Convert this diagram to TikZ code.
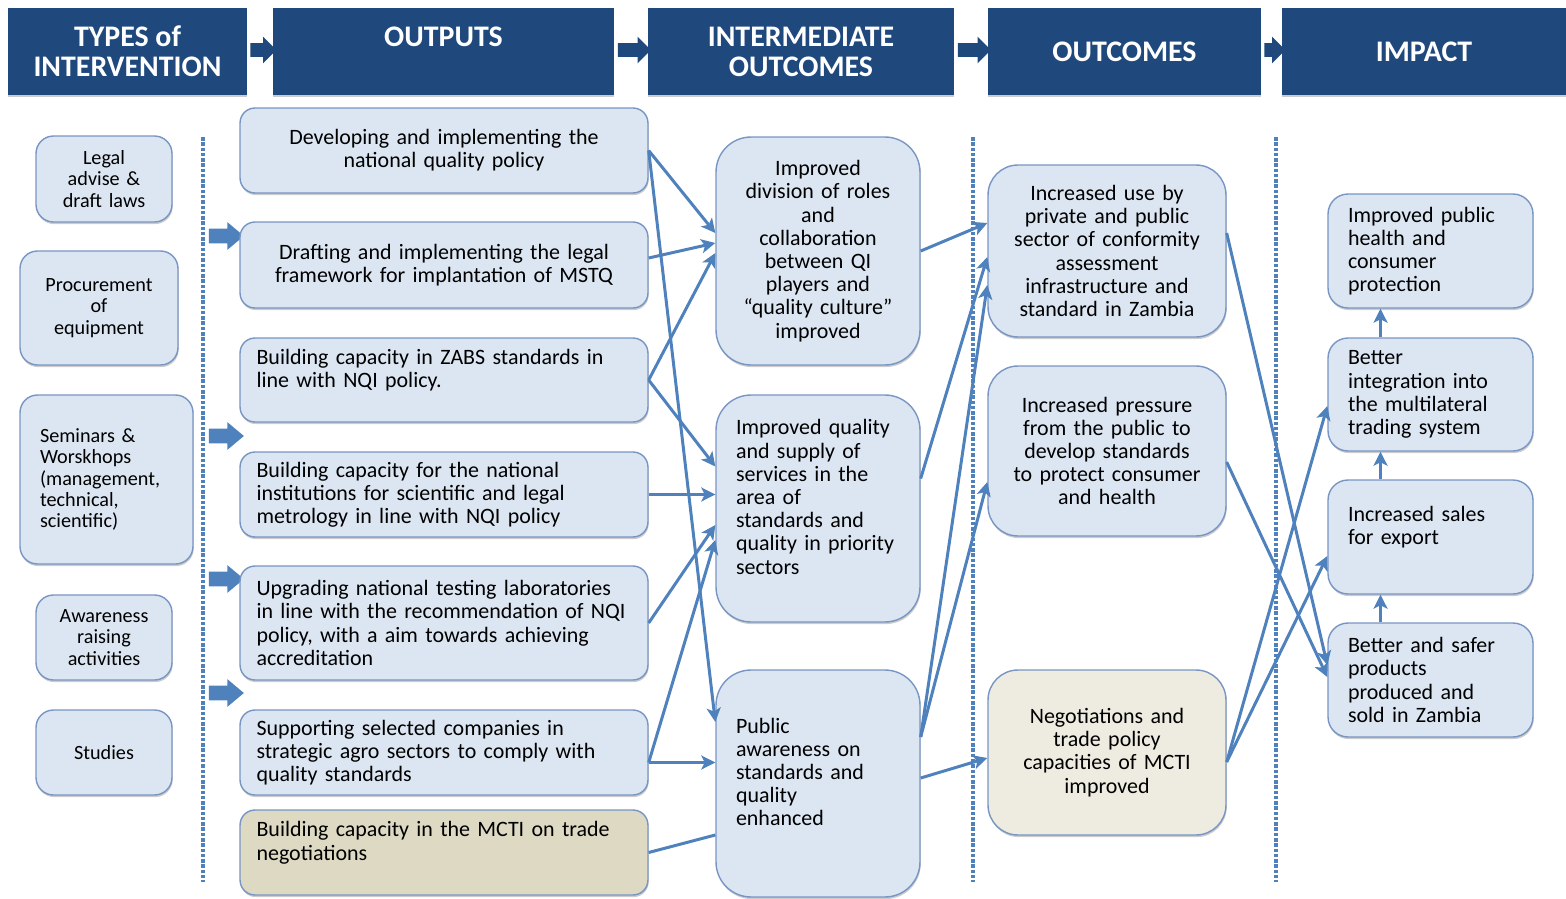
\documentclass[tikz,border=0pt]{standalone}
\usepackage{fontspec}
\setmainfont{Carlito}
\usepackage{tikz}
\usetikzlibrary{arrows.meta}
\usetikzlibrary{shapes.arrows}
\usetikzlibrary{shadows}
\definecolor{headblue}{RGB}{31,73,125}
\definecolor{linkblue}{RGB}{79,129,189}
\definecolor{boxfill}{RGB}{220,230,242}
\definecolor{boxline}{RGB}{120,150,195}
\definecolor{tandark}{RGB}{221,217,195}
\definecolor{tanlight}{RGB}{238,236,225}
\tikzset{head/.style={fill=headblue,text=white,font=\fontsize{17}{17}\selectfont\bfseries,align=center,minimum height=1.74cm,drop shadow={shadow xshift=0pt,shadow yshift=-1.2pt,fill=black!40,opacity=0.5}},
box/.style={draw=boxline,line width=0.8pt,fill=boxfill,rounded corners=0.3cm,font=\fontsize{12.5}{13.2}\selectfont,inner xsep=0.4cm,inner ysep=2pt,drop shadow={shadow xshift=0.4pt,shadow yshift=-1.2pt,fill=black!40,opacity=0.5}},
obox/.style={box,inner xsep=0.33cm,minimum width=8.16cm,text width=7.5cm},
tbox/.style={box,font=\fontsize{11.5}{12.2}\selectfont,rounded corners=0.35cm},
link/.style={draw=linkblue,line width=1.7pt,-{Stealth[length=8pt,width=8pt,inset=2pt]}},
flat/.style={draw=linkblue,line width=1.7pt},
headarrow/.style={single arrow,fill=headblue,inner sep=0.13cm,single arrow head extend=0.13cm,single arrow head indent=0pt},
sidearrow/.style={single arrow,fill=linkblue,inner sep=0.14cm,minimum height=0.7cm,single arrow head extend=0.13cm,single arrow tip angle=80},
sep/.style={draw=linkblue,line width=2pt,dash pattern=on 2pt off 1pt}}

\begin{document}
\begin{tikzpicture}[x=0.02cm,y=-0.02cm]
\useasboundingbox (0,0) rectangle (1566,899);

% header row
\node (h1) at (127.5,51.5) [head,minimum width=4.78cm] {TYPES of\\INTERVENTION};
\node (h2) at (443.5,51.5) [head,minimum width=6.82cm] {OUTPUTS\\~};
\node (h3) at (801,51.5) [head,minimum width=6.12cm] {INTERMEDIATE\\OUTCOMES};
\node (h4) at (1124.5,51.5) [head,minimum width=5.46cm] {OUTCOMES};
\node (h5) at (1424,51.5) [head,minimum width=5.68cm] {IMPACT};
\node (a1) at (260,50) [headarrow,minimum height=0.52cm] {};
\node (a2) at (631,50) [headarrow,minimum height=0.66cm] {};
\node (a3) at (971,50) [headarrow,minimum height=0.66cm] {};
\node (a4) at (1271.5,50) [headarrow,minimum height=0.42cm] {};

% separators
\draw [sep] (203,137) -- (203,882);
\draw [sep] (973,137) -- (973,882);
\draw [sep] (1276,137) -- (1276,882);

% types of intervention
\node (t1) at (104,179) [tbox,minimum width=2.72cm,minimum height=1.72cm,text width=1.92cm,align=center] {Legal\\advise \&\\draft laws};
\node (t2) at (99,308) [tbox,minimum width=3.16cm,minimum height=2.28cm,text width=2.36cm,align=center] {Procurement\\of\\equipment};
\node (t3) at (106.5,479.5) [tbox,minimum width=3.46cm,minimum height=3.38cm,text width=2.66cm,align=left] {Seminars \&\\Worskhops\\(management,\\technical,\\scientific)};
\node (t4) at (104,637.5) [tbox,minimum width=2.72cm,minimum height=1.7cm,text width=1.92cm,align=center] {Awareness\\raising\\activities};
\node (t5) at (104,752.5) [tbox,minimum width=2.72cm,minimum height=1.7cm,text width=1.92cm,align=center] {Studies};

\node (s1) at (222,236) [sidearrow] {};
\node (s2) at (222,436) [sidearrow] {};
\node (s3) at (222,579) [sidearrow] {};
\node (s4) at (222,693) [sidearrow] {};

% outputs
\node (o1) at (444,150.5) [obox,minimum height=1.7cm,align=center] {Developing and implementing the\\national quality policy};
\node (o2) at (444,265) [obox,minimum height=1.72cm,align=center] {Drafting and implementing the legal\\framework for implantation of MSTQ};
\node (o3) at (444,380) [obox,minimum height=1.68cm,align=left] {Building capacity in ZABS standards in\\line with NQI policy.\\~};
\node (o4) at (444,494.5) [obox,minimum height=1.7cm,align=left] {Building capacity for the national\\institutions for scientific and legal\\metrology in line with NQI policy};
\node (o5) at (444,623) [obox,minimum height=2.28cm,align=left] {Upgrading national testing laboratories\\in line with the recommendation of NQI\\policy, with a aim towards achieving\\accreditation};
\node (o6) at (444,752.5) [obox,minimum height=1.7cm,align=left] {Supporting selected companies in\\strategic agro sectors to comply with\\quality standards};
\node (o7) at (444,852.5) [obox,fill=tandark,minimum height=1.7cm,align=left] {Building capacity in the MCTI on trade\\negotiations\\~};

% intermediate outcomes
\node (i1) at (818,251) [box,rounded corners=0.7cm,minimum width=4.08cm,minimum height=4.56cm,text width=3.28cm,align=center] {Improved\\division of roles\\and\\collaboration\\between QI\\players and\\“quality culture”\\improved};
\node (i2) at (818,508.5) [box,rounded corners=0.7cm,minimum width=4.08cm,minimum height=4.54cm,text width=3.28cm,align=left] {Improved quality\\and supply of\\services in the\\area of\\standards and\\quality in priority\\sectors\\~};
\node (i3) at (818,783.5) [box,rounded corners=0.7cm,minimum width=4.08cm,minimum height=4.54cm,text width=3.28cm,align=left] {Public\\awareness on\\standards and\\quality\\enhanced\\~};

% outcomes
\node (c1) at (1107,251) [box,rounded corners=0.6cm,minimum width=4.76cm,minimum height=3.44cm,text width=3.96cm,align=center] {Increased use by\\private and public\\sector of conformity\\assessment\\infrastructure and\\standard in Zambia};
\node (c2) at (1107,451) [box,rounded corners=0.6cm,minimum width=4.76cm,minimum height=3.4cm,text width=3.96cm,align=center] {Increased pressure\\from the public to\\develop standards\\to protect consumer\\and health};
\node (c3) at (1107,752.5) [box,fill=tanlight,rounded corners=0.6cm,minimum width=4.76cm,minimum height=3.3cm,text width=3.96cm,align=center] {Negotiations and\\trade policy\\capacities of MCTI\\improved};

% impact
\node (p1) at (1430.5,251) [box,rounded corners=0.4cm,minimum width=4.1cm,minimum height=2.28cm,text width=3.3cm,align=left] {Improved public\\health and\\consumer\\protection};
\node (p2) at (1430.5,394.5) [box,rounded corners=0.4cm,minimum width=4.1cm,minimum height=2.26cm,text width=3.3cm,align=left] {Better\\integration into\\the multilateral\\trading system};
\node (p3) at (1430.5,537) [box,rounded corners=0.4cm,minimum width=4.1cm,minimum height=2.28cm,text width=3.3cm,align=left] {Increased sales\\for export\\~};
\node (p4) at (1430.5,680) [box,rounded corners=0.4cm,minimum width=4.1cm,minimum height=2.28cm,text width=3.3cm,align=left] {Better and safer\\products\\produced and\\sold in Zambia};

% outputs to intermediate outcomes
\draw [link] (o1.east) -- ([yshift=0.36cm]i1.west);
\draw [link] (o1.east) -- ([yshift=1.23cm]i3.west);
\draw [link] ([yshift=0.14cm]o2.east) -- ([yshift=0.16cm]i1.west);
\draw [link] (o3.east) -- ([yshift=-0.04cm]i1.west);
\draw [link] (o3.east) -- ([yshift=0.84cm]i2.west);
\draw [link] (o4.east) -- (o4.east -| i2.west);
\draw [link] (o5.east) -- ([yshift=-0.33cm]i2.west);
\draw [link] ([yshift=-0.2cm]o6.east) -- ([yshift=-0.63cm]i2.west);
\draw [link] ([yshift=-0.2cm]o6.east) -- ([yshift=-0.2cm]o6.east -| i3.west);
\draw [flat] (o7.east) -- ([yshift=-1.03cm]i3.west);

% intermediate outcomes to outcomes
\draw [link] (i1.east) -- ([yshift=0.56cm]c1.west);
\draw [link] ([yshift=0.6cm]i2.east) -- ([yshift=-0.12cm]c1.west);
\draw [link] ([yshift=0.93cm]i3.east) -- ([yshift=-0.68cm]c1.west);
\draw [link] ([yshift=0.93cm]i3.east) -- ([yshift=-0.62cm]c2.west);
\draw [link] ([yshift=0.11cm]i3.east) -- ([yshift=-0.11cm]c3.west);

% outcomes to impact
\draw [link] ([yshift=0.36cm]c1.east) -- ([yshift=0.3cm]p4.west);
\draw [link] ([yshift=-0.22cm]c2.east) -- ([yshift=0.06cm]p4.west);
\draw [link] ([yshift=-0.19cm]c3.east) -- ([yshift=-0.23cm]p2.west);
\draw [link] ([yshift=-0.19cm]c3.east) -- ([yshift=-0.38cm]p3.west);
\draw [link] ([xshift=-1cm]p4.north) -- ([xshift=-1cm]p3.south);
\draw [link] ([xshift=-1cm]p3.north) -- ([xshift=-1cm]p2.south);
\draw [link] ([xshift=-1cm]p2.north) -- ([xshift=-1cm]p1.south);
\end{tikzpicture}
\end{document}
